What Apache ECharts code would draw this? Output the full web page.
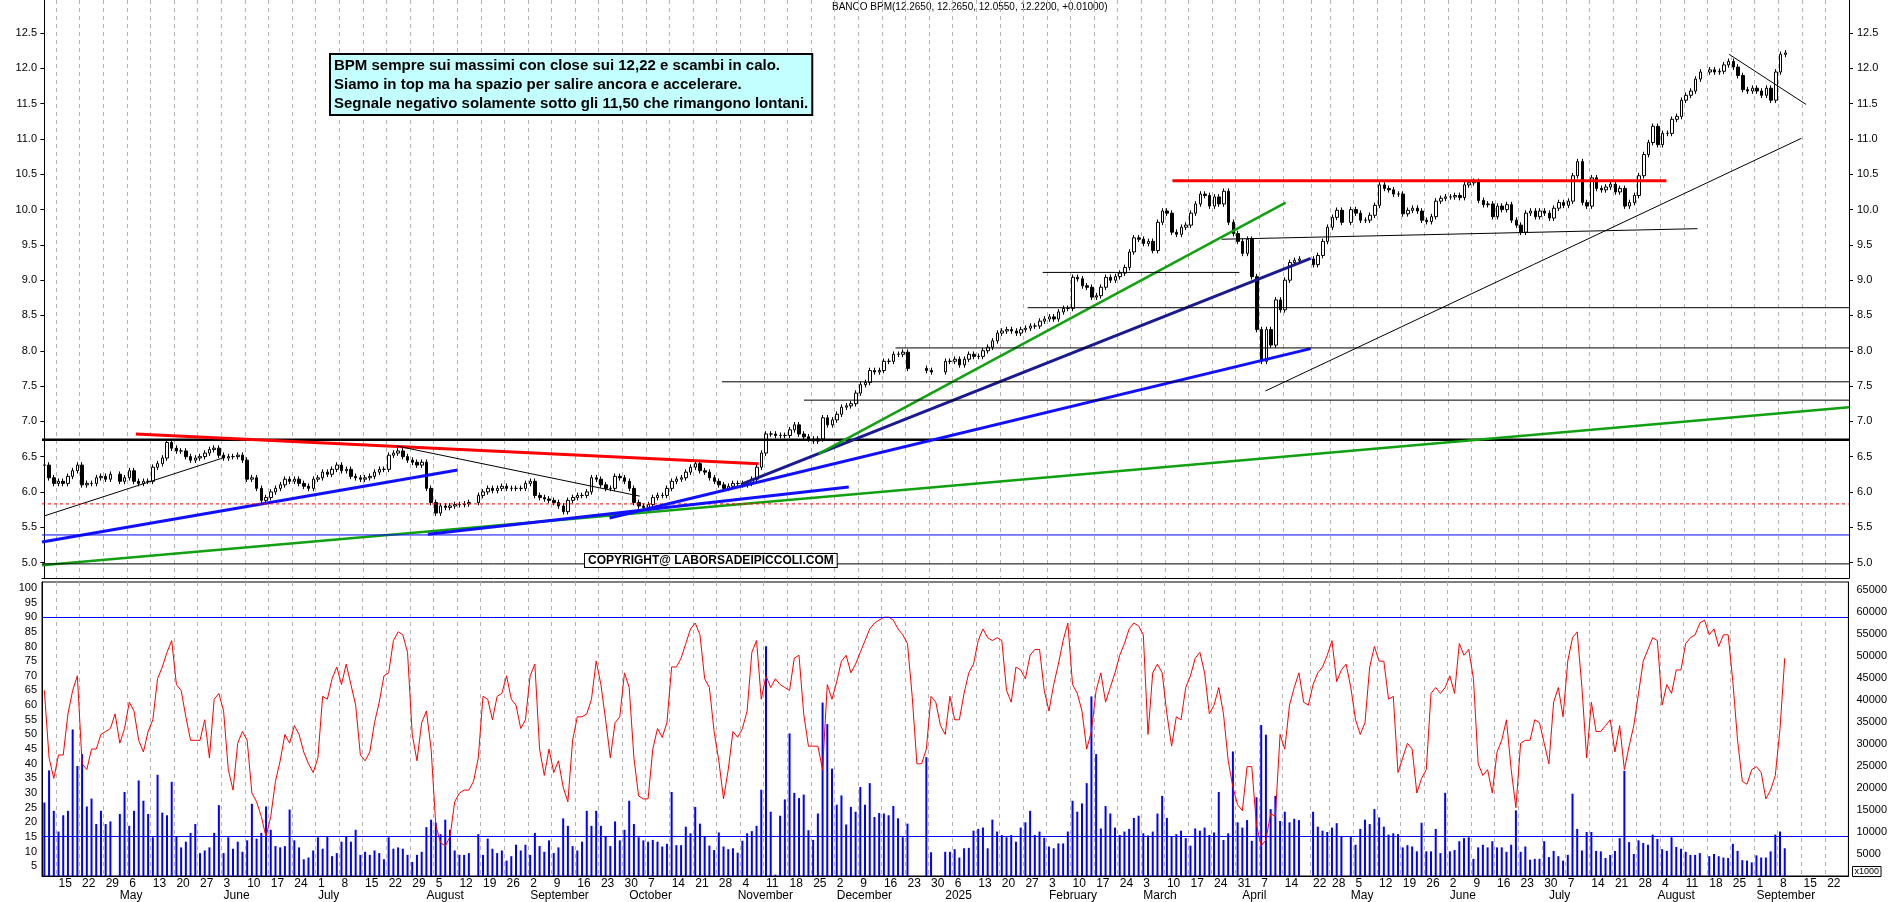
<!DOCTYPE html>
<html>
<head>
<meta charset="utf-8">
<script src="https://cdn.jsdelivr.net/npm/echarts@6/dist/echarts.min.js"></script>
<style>
html,body{margin:0;padding:0;background:#fff;}
#chart{width:1890px;height:902px;}
</style>
</head>
<body>
<div id="chart"></div>
<script>
// daily closes (null = market closed)
var closeA = [6.38,6.20,6.12,6.15,6.12,6.22,6.30,6.38,6.10,6.12,6.12,6.20,6.22,6.18,6.25,null,
 6.15,6.20,6.30,6.15,6.12,6.15,6.15,6.35,6.40,6.48, 6.70,6.62,6.58,6.58,6.50,6.45,6.48,6.50,6.55,6.60,
 6.62,6.52,6.48,6.50,6.50,6.52,6.45,6.18,6.20,6.05, 5.88,5.92,6.00,6.05,6.10,6.18,6.15,6.18,6.12,6.08,
 6.05,6.18,6.20,6.28,6.25,6.32,6.38,6.30,6.32,6.22, 6.20,6.18,6.20,6.22,6.28,6.32,6.32,6.52,6.55,6.58,
 6.50,6.45,6.42,6.38,6.42,6.05,5.85,5.70,5.80,5.78, 5.80,5.82,5.82,5.83,5.85,null,
 5.95,6.00,6.05,6.02,6.05,6.08,6.05,6.05,6.05,6.05, 6.12,6.15,5.95,5.92,5.90,5.88,5.85,5.80,5.72,5.88,
 5.92,5.95,5.95,6.00,6.20,6.18,6.10,6.05,6.05,6.22, 6.20,6.15,6.05,5.85,5.80,5.78,5.82,5.92,5.95,5.95,
 6.05,6.15,6.18,6.20,6.28,6.35,6.40,
 6.30,6.28,6.20,6.15,6.10,6.05,6.08,6.12];
var closeB = [6.12,6.10,6.12,6.18,6.35,6.55,6.82,6.82,6.80,6.80, 6.80,6.88,6.95,6.82,6.78,6.75,6.72,6.75,7.05,6.95,
 7.02,7.10,7.20,7.22,7.25,7.40,7.52,7.55,7.72,7.70, 7.72,7.85,7.85,7.95,7.95,7.98,7.75,
 null,null,null,7.72,7.70,null,null,
 7.85,7.85,7.88,7.80,7.88,7.95,7.92,7.92,8.00,8.05, 8.14,8.25,8.28,8.30,8.28,8.25,8.30,8.32,8.35,8.35,
 8.42,8.45,8.48,8.45,8.55,8.60,8.60,9.04,9.02,8.92, 8.90,8.76,8.78,8.90,9.04,9.00,9.05,9.10,9.18,9.40,
 9.60,9.58,9.52,9.55,9.42,9.82,9.98,9.95,9.68,9.65, 9.75,9.78,9.95,10.08,10.22,10.20,10.05,10.18,10.08,10.26,
 9.82,9.66,9.55,9.38,9.58,9.05,8.30,7.85,8.30,8.08, 8.72,8.58,9.00,9.25,9.28,9.30,
 null,null,9.22,9.35];
var closeC = [9.55,9.75,9.89,9.99,9.82,null,10.0,9.95,9.85,9.85,9.92,10.06,10.35,10.30,10.28,10.22,
 10.22,9.94,9.99,10.02,9.98,9.85,9.83,9.90,10.12,10.16, 10.18,10.18,10.20,10.17,10.35,10.38,10.40,10.13,10.07,10.08,
 9.90,10.05,10.00,10.07,9.85,9.78,9.68,9.95,9.98,9.90, 9.98,9.95,9.88,10.02,10.10,10.06,10.12,10.48,10.68,10.10,
 10.05,10.45,10.30,10.28,10.32,10.36,10.25,10.30,10.05,10.10, 10.20,10.48,10.78,10.95,11.18,10.92,11.08,11.08,11.28,11.32,
 11.55,11.62,11.68,11.85,11.95,null,
 11.98,11.95,11.96,12.05,12.10,12.02,11.90,11.70,11.68,11.72,11.68,11.62,11.72,11.55,11.95,12.20,12.22];

// volume (axis unit x1000)
var volA = [16.7,24.0,14.8,10.1,13.8,14.8,33.3,25.0,27.7,15.8,17.6,11.8,14.8,11.8,12.4,null,
 14.1,19.1,11.4,14.8,21.7,17.1,14.1,8.8,23.0,14.4,13.8,21.4,9.1,6.5,7.8,9.8,11.8,5.2,5.8,6.5,9.8,16.1,5.2,8.8,
 6.2,7.8,5.5,8.1,16.4,8.5,9.8,15.8,10.5,6.8,6.5,6.8,15.1,8.1,6.5,3.8,4.2,5.8,8.8,6.2,9.1,4.5,5.2,7.8,9.1,7.8,
 10.5,4.8,5.5,4.8,5.8,5.2,3.8,8.8,6.2,6.5,6.2,4.8,3.2,4.8,5.5,11.1,12.8,12.1,9.5,12.8,10.5,5.8,4.8,4.8,5.2,null,
 9.5,4.8,8.5,6.2,5.2,5.8,3.5,4.5,7.1,5.8,7.1,4.8,9.8,6.8,5.5,8.1,5.2,6.5,13.1,11.4,6.8,5.8,7.8,14.8,11.4,14.8,
 11.4,9.1,6.8,12.4,8.1,10.5,17.1,11.8,8.8,8.1,7.8];
var volB = [8.2,7.8,6.7,7.3,19.1,7.0,7.0,11.2,9.7,15.7, 11.9,8.9,6.9,5.9,9.9,6.7,6.1,6.3,5.3,8.0,
 9.7,10.2,11.4,19.6,52.2,14.6,0.3,13.7,17.4,32.4, 18.9,17.7,18.5,10.4,8.2,14.2,39.4,34.5,24.4,16.2,
 18.3,11.7,15.7,14.6,20.2,16.2,21.1,13.4,14.3,14.2, 13.8,15.9,13.1,8.8,11.9,
 null,null,null,27.0,5.4,null,null,
 5.5,5.5,6.1,4.2,6.3,6.4,10.3,10.7,11.0,6.3,12.8,10.1,9.3, 8.8,9.3,7.8,11.0,12.2,14.8,9.3,10.1,8.7,6.7,
 6.3,7.4,7.4,10.1,17.1,14.6,16.5,21.1,40.8,27.7, 10.8,15.9,14.2,11.0,9.3,10.1,10.7,13.2,13.7,9.7,
 9.2,10.1,14.2,18.2,13.2,8.9,9.5,10.3,8.6,6.9, 10.8,10.3,11.0,9.3,9.9,19.1,8.2,9.7,28.3,12.2,11.0,12.7];
var volC = [8.0,17.9,34.3,32.1,15.2,18.2,12.5,14.6,12.2,13.0,12.7,null,null,
 14.6,11.2,10.3,10.0,11.0,12.0,9.0,null,
 9.1,7.1,10.7,12.8,11.8,15.2,13.3,11.2,9.4,9.7,9.5, 6.5,7.0,6.7,5.6,12.1,5.6,5.6,10.7,5.2,18.9,
 5.6,5.9,7.9,8.6,8.8,3.9,6.5,7.1,6.5,7.9, 6.5,6.5,5.5,7.1,14.9,5.5,6.7,3.7,3.9,3.9,
 7.9,4.3,5.7,4.5,3.5,4.8,18.7,10.7,5.8,10.0, 10.0,5.7,5.6,4.1,4.8,5.7,8.6,23.9,7.7,5.0,
 8.1,7.5,7.1,9.4,8.4,6.1,5.7,8.8,6.6,6.2, 5.5,4.8,4.8,5.2,null,
 4.5,5.0,4.5,4.2,4.1,7.3,5.7,3.6,3.5,3.1,4.7,4.2,4.2,5.6,9.4,10.1,6.3];

// oscillator (left scale of lower panel)
var oscA = [65,42,35,43,43,57,65,70,40,38, 45,45,50,51,52,57,47,52,61,58, 48,44,51,55,69,73,78,82,67,65,
 56,48,48,48,55,42,62,64,58,38, 31,47,51,48,30,27,22,15,22,34, 41,50,47,53,50,44,40,37,42,63,
 62,69,73,67,74,67,60,43,41,44, 54,61,70,71,82,85,84,78,50,41, 54,58,45,19,13,12,15,27,30,31,
 31,34,42,63,62,55,63,64,70,62, 60,52,55,70,74,45,36,45,37,41, 32,27,48,56,56,57,62,75,67,55,
 42,54,56,71,66,42,29,28,28];
var oscB = [45,52,49,54,73,73,76,81,86,88, 84,69,66,51,41,28,38,51,49,52, 58,78,82,62,70,66,69,67,66,65,
 76,77,57,46,46,46,38,67,62,68, 75,77,71,74,78,82,86,88,89,90, 90,89,86,84,81,63,40,40,45,63,
 61,53,50,63,55,55,64,71,74,82, 86,83,82,83,82,65,61,73,72,69, 77,79,79,65,58,67,74,82,88,67,
 64,58,45,51,65,71,61,66,71,77, 81,86,88,87,84,50,71,74,71,57, 46,56,55,66,70,76,78,71,57,60,
 66,57,41,32,26,24,39,39,19,12, 14,23,22,50,45,60,66,71,61,60, 67,71,73,77,82,68,72];
var oscC = [74,66,55,50,54,73,80,75,75,62, 63,37,42,47,45,30,35,38,64,66, 64,66,70,64,81,77,79,69,40,36,
 38,30,44,48,55,38,25,47,48,48, 55,54,47,40,61,66,56,75,83,85, 66,42,61,51,51,53,55,44,53,38,
 46,53,64,75,79,83,82,60,67,64, 72,72,81,83,84,88,89,84,86,80, 84,84,68,48,34,33,38,39,37,28,
 31,36,52,76];
var oscLevels = [90, 15.2];

// tick labels
var priceTicks = [5,5.5,6,6.5,7,7.5,8,8.5,9,9.5,10,10.5,11,11.5,12,12.5];
var oscTicks = [5,10,15,20,25,30,35,40,45,50,55,60,65,70,75,80,85,90,95,100];
var volTicks = [5,10,15,20,25,30,35,40,45,50,55,60,65];
var monthNames = ['2025','February','March','April','May','June','July','August','September','October','November','December'];

// trend lines drawn on the chart: [name, x1, y1, x2, y2] (x = trading-day index)
var trendLines = [
  ['hBlack', -0.5, 6.74, 382.5, 6.74],
  ['red', 19.4, 6.82, 151.4, 6.40],
  ['thin', 0, 5.66, 37.8, 6.48],
  ['thin', 74.7, 6.65, 126.2, 5.94],
  ['blue', -0.5, 5.29, 87.6, 6.31],
  ['green', -0.5, 4.96, 382.5, 7.20],
  ['redDash', -0.5, 5.83, 382.5, 5.83],
  ['blueThin', -0.5, 5.39, 382.5, 5.39],
  ['thin', -0.5, 4.98, 382.5, 4.98],
  ['blue', 81.3, 5.40, 170.5, 6.07],
  ['blue', 119.8, 5.63, 268.4, 8.03],
  ['navy', 147.8, 6.11, 268.4, 9.31],
  ['green', 164.1, 6.54, 263.1, 10.10],
  ['thin', 143.6, 7.56, 382.5, 7.56],
  ['thin', 161, 7.30, 382.5, 7.30],
  ['thin', 180.4, 8.04, 382.5, 8.04],
  ['thin', 208.4, 8.61, 382.5, 8.61],
  ['thin', 211.6, 9.11, 253.3, 9.11],
  ['thin', 249.5, 9.58, 350.4, 9.73],
  ['red', 239.1, 10.41, 343.8, 10.41],
  ['thin', 258.8, 7.43, 372.4, 11.01],
  ['thin', 357.1, 12.20, 373.4, 11.49]
];
var lineStyles = {
  hBlack: {color: '#000', width: 2.5},
  red: {color: '#ff0000', width: 3},
  thin: {color: '#000', width: 1},
  blue: {color: '#1010ff', width: 3},
  green: {color: '#10a010', width: 2.5},
  navy: {color: '#1a1a90', width: 3},
  redDash: {color: '#ff0000', width: 1, type: [3, 3]},
  blueThin: {color: '#0000ff', width: 1}
};

var closes = closeA.concat(closeB, closeC);
var vols = volA.concat(volB, volC);
var osc = oscA.concat(oscB, oscC);

// trading-day categories
var dates = [];
var d = new Date(Date.UTC(2024, 3, 10));
while (dates.length < 383) {
  var wd = d.getUTCDay();
  if (wd != 0 && wd != 6) dates.push(new Date(d.getTime()));
  d.setUTCDate(d.getUTCDate() + 1);
}
var cats = dates.map(function (x) { return x.toISOString().slice(0, 10); });
function isOpen(i) { return i >= closes.length || closes[i] != null; }
var weekStart = [], monthStart = [];
var lastWeek = Math.floor((dates[0].getTime() / 86400000 + 3) / 7), lastMonth = dates[0].getUTCMonth();
dates.forEach(function (x, i) {
  weekStart.push(false); monthStart.push(false);
  if (!isOpen(i)) return;
  var wk = Math.floor((x.getTime() / 86400000 + 3) / 7);
  if (wk != lastWeek) { weekStart[i] = true; lastWeek = wk; }
  if (x.getUTCMonth() != lastMonth) { monthStart[i] = true; lastMonth = x.getUTCMonth(); }
});

var candles = [];
var prev = closes[0];
closes.forEach(function (c) {
  if (c == null) { candles.push('-'); return; }
  var o = prev;
  candles.push([o, c, Math.min(o, c) - 0.04, Math.max(o, c) + 0.04]);
  prev = c;
});

var series = [{
  type: 'candlestick', xAxisIndex: 0, yAxisIndex: 0, data: candles, barWidth: 3,
  itemStyle: {color: '#fff', color0: '#000', borderColor: '#000', borderColor0: '#000', borderWidth: 1}
}];
trendLines.forEach(function (t) {
  var s = lineStyles[t[0]];
  series.push({
    type: 'line', xAxisIndex: 1, yAxisIndex: 0, symbol: 'none', silent: true, z: 3,
    data: [[t[1], t[2]], [t[3], t[4]]],
    lineStyle: {color: s.color, width: s.width, type: s.type || 'solid'}
  });
});
series.push({
  type: 'bar', xAxisIndex: 2, yAxisIndex: 3, data: vols, barWidth: 2,
  itemStyle: {color: '#0000ff'}
});
series.push({
  type: 'line', xAxisIndex: 2, yAxisIndex: 2, data: osc, symbol: 'none', z: 4,
  lineStyle: {color: '#ff0000', width: 1},
  markLine: {
    symbol: 'none', silent: true, label: {show: false},
    lineStyle: {color: '#0000ff', width: 1, type: 'solid'},
    data: oscLevels.map(function (v) { return {yAxis: v}; })
  }
});

var font = 'Liberation Sans';
var dash = {show: true, interval: function (i) { return weekStart[i]; }, lineStyle: {color: '#b4b4b4', type: [4, 4]}};

var myChart = echarts.init(document.getElementById('chart'));
var option = {
  animation: false,
  backgroundColor: '#fff',
  textStyle: {fontFamily: font},
  grid: [
    {left: 42, right: 41, top: 0, height: 578},
    {left: 42, right: 41, top: 582, height: 295, show: true, borderColor: '#000', borderWidth: 1}
  ],
  xAxis: [
    {type: 'category', gridIndex: 0, data: cats, axisLabel: {show: false}, axisTick: {show: false},
     axisLine: {lineStyle: {color: '#000'}}, splitLine: dash},
    {type: 'value', gridIndex: 0, min: -0.5, max: cats.length - 0.5, show: false},
    {type: 'category', gridIndex: 1, position: 'bottom', data: cats, axisLine: {lineStyle: {color: '#000'}},
     axisTick: {interval: function (i) { return weekStart[i]; }, length: 11, lineStyle: {color: '#000'}},
     axisLabel: {interval: function (i) { return weekStart[i]; }, align: 'left', margin: 2, fontSize: 12, color: '#000',
       formatter: function (v) { return String(+v.slice(8, 10)); }},
     splitLine: dash},
    {type: 'category', gridIndex: 1, position: 'bottom', offset: 0, data: cats, axisLine: {show: false},
     axisTick: {interval: function (i) { return monthStart[i]; }, length: 26, lineStyle: {color: '#000'}},
     axisLabel: {interval: function (i) { return monthStart[i]; }, align: 'left', margin: 14, fontSize: 12, color: '#000',
       formatter: function (v) { return monthNames[+v.slice(5, 7) - 1]; }}}
  ],
  yAxis: [
    {type: 'value', gridIndex: 0, min: 4.78, max: 12.97, position: 'left', splitLine: {show: false},
     axisLine: {show: true, lineStyle: {color: '#000'}},
     axisTick: {customValues: priceTicks, length: 4},
     axisLabel: {customValues: priceTicks, fontSize: 11, color: '#000', margin: 5,
       formatter: function (v) { return v.toFixed(1); }}},
    {type: 'value', gridIndex: 0, min: 4.78, max: 12.97, position: 'right', splitLine: {show: false},
     axisLine: {show: true, lineStyle: {color: '#000'}},
     axisTick: {customValues: priceTicks, length: 4},
     axisLabel: {customValues: priceTicks, fontSize: 11, color: '#000', margin: 8,
       formatter: function (v) { return v.toFixed(1); }}},
    {type: 'value', gridIndex: 1, min: 1.7, max: 102, position: 'left', splitLine: {show: false},
     axisLine: {show: true, lineStyle: {color: '#000'}},
     axisTick: {customValues: oscTicks, length: 4},
     axisLabel: {customValues: oscTicks, fontSize: 11, color: '#000', margin: 5}},
    {type: 'value', gridIndex: 1, min: 0, max: 66.8, position: 'right', splitLine: {show: false},
     axisLine: {show: true, lineStyle: {color: '#000'}},
     axisTick: {customValues: volTicks, length: 4},
     axisLabel: {customValues: volTicks, fontSize: 11, color: '#000', margin: 8,
       formatter: function (v) { return String(v * 1000); }}}
  ],
  graphic: [
    {type: 'text', left: 832, top: 2, style: {text: 'BANCO BPM(12.2650, 12.2650, 12.0550, 12.2200, +0.01000)',
      font: '10px ' + font, fill: '#000'}},
    {type: 'text', left: 329, top: 53, z: 10, style: {
      text: 'BPM sempre sui massimi con close sui 12,22 e scambi in calo.\nSiamo in top ma ha spazio per salire ancora e accelerare.\nSegnale negativo solamente sotto gli 11,50 che rimangono lontani.',
      font: 'bold 15px ' + font, fill: '#000', lineHeight: 19, backgroundColor: '#c4ffff',
      borderColor: '#000', borderWidth: 2, padding: [1, 3, 1, 3]}},
    {type: 'text', left: 584, top: 553, z: 10, style: {text: 'COPYRIGHT@ LABORSADEIPICCOLI.COM',
      font: 'bold 12px ' + font, fill: '#000', backgroundColor: '#fff', borderColor: '#000', borderWidth: 1, padding: [1, 3, 0, 3]}},
    {type: 'text', left: 1852, top: 866, style: {text: 'x1000', font: '9px ' + font, fill: '#000',
      borderColor: '#000', borderWidth: 1, padding: [1, 2, 0, 2]}}
  ],
  series: series
};
myChart.setOption(option);
</script>
</body>
</html>
